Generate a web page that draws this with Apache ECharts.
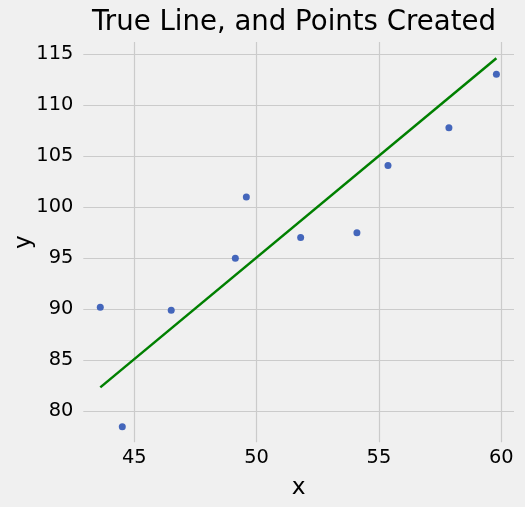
<!DOCTYPE html>
<html>
<head>
<meta charset="utf-8">
<script src="https://cdn.jsdelivr.net/npm/echarts@6/dist/echarts.min.js"></script>
<style>
html,body{margin:0;padding:0;background:#f0f0f0;}
#chart{width:525px;height:507px;}
</style>
</head>
<body>
<div id="chart"></div>
<script>
const titleText = "True Line, and Points Created";
const xLabel = "x";
const yLabel = "y";
const pointsX = [43.61, 44.51, 46.51, 49.13, 49.58, 51.80, 54.10, 55.37, 57.86, 59.80];
const pointsY = [90.2, 78.5, 89.9, 95.0, 101.0, 97.05, 97.5, 104.1, 107.8, 113.05];
const lineX = [43.61, 59.80];
const lineY = [82.35, 114.6];

const font = "DejaVu Sans";
const chart = echarts.init(document.getElementById('chart'), null, {renderer: 'canvas'});
chart.setOption({
  backgroundColor: '#f0f0f0',
  animation: false,
  title: {
    text: titleText,
    left: 92,
    top: 9,
    padding: 0,
    textStyle: {fontFamily: font, fontSize: 27.6, fontWeight: 'normal', color: '#000', lineHeight: 28}
  },
  grid: {left: 83.3, right: 11, top: 42, bottom: 64.7, containLabel: false, outerBoundsMode: 'none'},
  xAxis: {
    type: 'value',
    min: 42.916, max: 60.52,
    minInterval: 5, maxInterval: 5,
    name: xLabel, nameLocation: 'middle', nameGap: 34,
    nameTextStyle: {fontFamily: font, fontSize: 23.3, color: '#000', lineHeight: 23.3},
    axisLine: {show: false}, axisTick: {show: false},
    axisLabel: {fontFamily: font, fontSize: 19.4, color: '#000', margin: 6, showMinLabel: false, showMaxLabel: false, lineHeight: 19.4},
    splitLine: {show: true, showMinLine: false, showMaxLine: false, lineStyle: {color: '#cbcbcb', width: 1.2}}
  },
  yAxis: {
    type: 'value',
    min: 76.97, max: 116.2,
    minInterval: 5, maxInterval: 5,
    name: yLabel, nameLocation: 'middle', nameGap: 48, nameMoveOverlap: false,
    nameTextStyle: {fontFamily: font, fontSize: 23.3, color: '#000'},
    axisLine: {show: false}, axisTick: {show: false},
    axisLabel: {fontFamily: font, fontSize: 19.4, color: '#000', margin: 10, showMinLabel: false, showMaxLabel: false},
    splitLine: {show: true, showMinLine: false, showMaxLine: false, lineStyle: {color: '#cbcbcb', width: 1.2}}
  },
  series: [
    {
      type: 'line',
      data: lineX.map((x, i) => [x, lineY[i]]),
      showSymbol: false,
      lineStyle: {color: '#008000', width: 2.5},
      z: 2
    },
    {
      type: 'scatter',
      data: pointsX.map((x, i) => [x, pointsY[i]]),
      symbolSize: 7,
      itemStyle: {color: '#4466bb', opacity: 1},
      z: 3
    }
  ]
});
</script>
</body>
</html>
